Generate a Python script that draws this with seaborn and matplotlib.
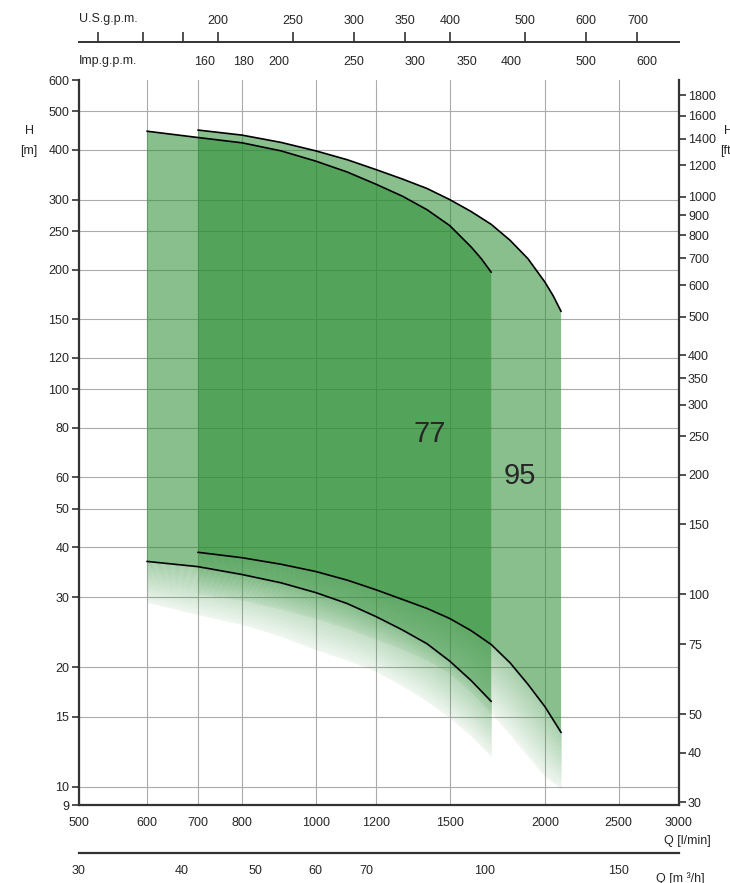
import numpy as np
import pandas as pd
import matplotlib
matplotlib.use("Agg")
import matplotlib.pyplot as plt
from matplotlib.ticker import FixedLocator, FixedFormatter, NullLocator
import seaborn as sns

# pump range data (Q in l/min, H in m)
q77_top = [600, 700, 800, 900, 1000, 1100, 1200, 1300, 1400, 1500, 1600, 1650, 1700]
h77_top = [446, 430, 417, 398, 375, 352, 328, 306, 283, 258, 228, 213, 197]
q77_low = [600, 700, 800, 900, 1000, 1100, 1200, 1300, 1400, 1500, 1600, 1700]
h77_low = [36.9, 35.8, 34.2, 32.6, 30.8, 28.9, 26.8, 24.8, 22.9, 20.7, 18.5, 16.4]
h77_fade = [29.1, 27.1, 25.6, 23.9, 22.1, 20.8, 19.5, 17.9, 16.4, 14.9, 13.4, 11.9]

q95_top = [700, 800, 900, 1000, 1100, 1200, 1300, 1400, 1500, 1600, 1700, 1800,
           1900, 2000, 2050, 2100]
h95_top = [449, 436, 418, 398, 378, 357, 338, 320, 300, 280, 260, 237,
           213, 186, 172, 157]
q95_low = [700, 800, 900, 1000, 1100, 1200, 1300, 1400, 1500, 1600, 1700, 1800,
           1900, 2000, 2100]
h95_low = [38.9, 37.7, 36.3, 34.8, 33.1, 31.3, 29.6, 28.1, 26.5, 24.7, 22.8, 20.5,
           18.1, 15.9, 13.7]
h95_fade = [30.5, 29.5, 28.0, 26.5, 25.0, 23.5, 22.2, 20.8, 19.3, 17.3, 15.3, 13.5,
            11.9, 10.6, 9.9]

# axis ticks
q_ticks = [500, 600, 700, 800, 1000, 1200, 1500, 2000, 2500, 3000]
h_ticks = [9, 10, 15, 20, 30, 40, 50, 60, 80, 100, 120, 150, 200, 250, 300, 400, 500, 600]
ft_ticks = [30, 40, 50, 75, 100, 150, 200, 250, 300, 350, 400, 500, 600, 700,
            800, 900, 1000, 1200, 1400, 1600, 1800]
m3h_ticks = [30, 40, 50, 60, 70, 100, 150]
us_ticks = [140, 160, 180, 200, 250, 300, 350, 400, 500, 600, 700]
us_labels = ["", "", "", "200", "250", "300", "350", "400", "500", "600", "700"]
imp_ticks = [120, 140, 160, 180, 200, 250, 300, 350, 400, 500, 600]
imp_labels = ["", "", "160", "180", "200", "250", "300", "350", "400", "500", "600"]

Q_LEFT, Q_RIGHT = 488.5, 3000
H_MIN, H_MAX = 9, 600
M_TO_FT = 3.2808
USG, IMPG = 3.785, 4.546

GREEN = "#2c8d35"
ALPHA = 0.56
DARK = "#333333"
FS = 9

sns.set_style("white")
plt.rcParams["font.family"] = ["Liberation Sans", "DejaVu Sans"]

fig = plt.figure(figsize=(7.3, 8.83), dpi=100)
W, H = 730, 883
left, right = 79 / W, 679 / W
ax = fig.add_axes([left, 1 - 805 / H, right - left, (805 - 80) / H])
ax.set_xscale("log")
ax.set_yscale("log")
ax.set_xlim(Q_LEFT, Q_RIGHT)
ax.set_ylim(H_MIN, H_MAX)


def draw_band(ax, q_top, h_top, q_low, h_low, h_fade, n=45):
    # solid range between max and min curve
    xs = list(q_top) + list(q_low)[::-1]
    ys = list(h_top) + list(h_low)[::-1]
    ax.fill(xs, ys, color=GREEN, alpha=ALPHA, lw=0, zorder=2)
    # fading tail below the min curve
    lo = np.log10(h_low)
    fa = np.log10(h_fade)
    for i in range(n):
        t0, t1 = i / n, (i + 1) / n
        c0 = 10 ** (lo + (fa - lo) * t0)
        c1 = 10 ** (lo + (fa - lo) * t1)
        tm = (t0 + t1) / 2
        a = ALPHA * (0.8 - 0.68 * tm)
        ax.fill_between(q_low, c1, c0, color=GREEN, alpha=a, lw=0, zorder=2)


draw_band(ax, q77_top, h77_top, q77_low, h77_low, h77_fade)
draw_band(ax, q95_top, h95_top, q95_low, h95_low, h95_fade)

for q, h in [(q77_top, h77_top), (q77_low, h77_low), (q95_top, h95_top), (q95_low, h95_low)]:
    df = pd.DataFrame({"Q": q, "H": h})
    sns.lineplot(data=df, x="Q", y="H", ax=ax, color="black", lw=1.2,
                 estimator=None, sort=False, zorder=4)

ax.text(1413, 77, "77", fontsize=21, ha="center", va="center", zorder=5)
ax.text(1855, 60.4, "95", fontsize=21, ha="center", va="center", zorder=5)

ax.set_xlabel("")
ax.set_ylabel("")
ax.xaxis.set_major_locator(FixedLocator([Q_LEFT] + q_ticks[1:]))
ax.xaxis.set_major_formatter(FixedFormatter([str(v) for v in q_ticks]))
ax.xaxis.set_minor_locator(NullLocator())
ax.yaxis.set_major_locator(FixedLocator(h_ticks))
ax.yaxis.set_major_formatter(FixedFormatter([str(v) for v in h_ticks]))
ax.yaxis.set_minor_locator(NullLocator())
ax.tick_params(axis="both", direction="out", length=5, width=1.2, color=DARK,
               labelsize=FS, pad=2)
ax.tick_params(axis="x", pad=3.5)
ax.set_axisbelow(True)
ax.grid(True, color="#ababab", lw=0.8)
ax.get_ygridlines()[-1].set_visible(False)
for s in ["top", "right"]:
    ax.spines[s].set_visible(False)
for s in ["left", "bottom"]:
    ax.spines[s].set_color(DARK)
    ax.spines[s].set_linewidth(1.6)

# feet on the right
axr = ax.twinx()
axr.set_yscale("log")
axr.set_ylim(H_MIN * M_TO_FT, H_MAX * M_TO_FT)
axr.yaxis.set_major_locator(FixedLocator(ft_ticks))
axr.yaxis.set_major_formatter(FixedFormatter([str(v) for v in ft_ticks]))
axr.yaxis.set_minor_locator(NullLocator())
axr.tick_params(axis="y", direction="out", length=5, width=1.2, color=DARK,
                labelsize=FS, pad=1.5)
for s in ["top", "left", "bottom"]:
    axr.spines[s].set_visible(False)
axr.spines["right"].set_color(DARK)
axr.spines["right"].set_linewidth(1.6)

# m3/h scale at the bottom
axm = fig.add_axes([left, 1 - 853 / H, right - left, 1e-5])
axm.set_xscale("log")
axm.set_xlim(Q_LEFT * 0.06, Q_RIGHT * 0.06)
axm.xaxis.set_major_locator(FixedLocator([Q_LEFT * 0.06] + m3h_ticks[1:]))
axm.xaxis.set_major_formatter(FixedFormatter([str(v) for v in m3h_ticks]))
axm.xaxis.set_minor_locator(NullLocator())
axm.set_yticks([])
axm.set_facecolor("none")
axm.tick_params(axis="x", direction="out", length=5, width=1.2, color=DARK,
                labelsize=FS, pad=3.5)
for s in ["top", "left", "right"]:
    axm.spines[s].set_visible(False)
axm.spines["bottom"].set_color(DARK)
axm.spines["bottom"].set_linewidth(1.6)

# gallons per minute at the top
top_y = 1 - 42 / H
axu = fig.add_axes([left, top_y, right - left, 1e-5])
axu.set_xscale("log")
axu.set_xlim(500 / USG, 3000 / USG)
axu.xaxis.set_ticks_position("top")
axu.xaxis.set_label_position("top")
axu.xaxis.set_major_locator(FixedLocator(us_ticks))
axu.xaxis.set_major_formatter(FixedFormatter(us_labels))
axu.xaxis.set_minor_locator(NullLocator())
axu.set_yticks([])
axu.set_facecolor("none")
axu.tick_params(axis="x", direction="out", length=7, width=1.2, color=DARK,
                labelsize=FS, pad=4)
for s in ["top", "left", "right"]:
    axu.spines[s].set_visible(False)
axu.spines["bottom"].set_color(DARK)
axu.spines["bottom"].set_linewidth(1.4)

axi = fig.add_axes([left, top_y, right - left, 1e-5])
axi.set_xscale("log")
axi.set_xlim(500 / IMPG, 3000 / IMPG)
axi.xaxis.set_major_locator(FixedLocator(imp_ticks))
axi.xaxis.set_major_formatter(FixedFormatter(imp_labels))
axi.xaxis.set_minor_locator(NullLocator())
axi.set_yticks([])
axi.set_facecolor("none")
axi.tick_params(axis="x", direction="out", length=7, width=1.2, color=DARK,
                labelsize=FS, pad=3)
for s in axi.spines.values():
    s.set_visible(False)

# axis captions
fig.text(79 / W, 1 - 19 / H, "U.S.g.p.m.", ha="left", va="center", fontsize=FS)
fig.text(79 / W, 1 - 61 / H, "Imp.g.p.m.", ha="left", va="center", fontsize=FS)
fig.text(30 / W, 1 - 131 / H, "H", ha="center", va="center", fontsize=FS)
fig.text(29 / W, 1 - 151 / H, "[m]", ha="center", va="center", fontsize=FS)
fig.text(724 / W, 1 - 131 / H, "H", ha="left", va="center", fontsize=FS)
fig.text(720 / W, 1 - 151 / H, "[ft]", ha="left", va="center", fontsize=FS)
fig.text(711 / W, 1 - 841 / H, "Q [l/min]", ha="right", va="center", fontsize=FS)
fig.text(656 / W, 1 - 879 / H, "Q [m ³/h]", ha="left", va="center", fontsize=FS)

fig.savefig("out.png", dpi=100)
